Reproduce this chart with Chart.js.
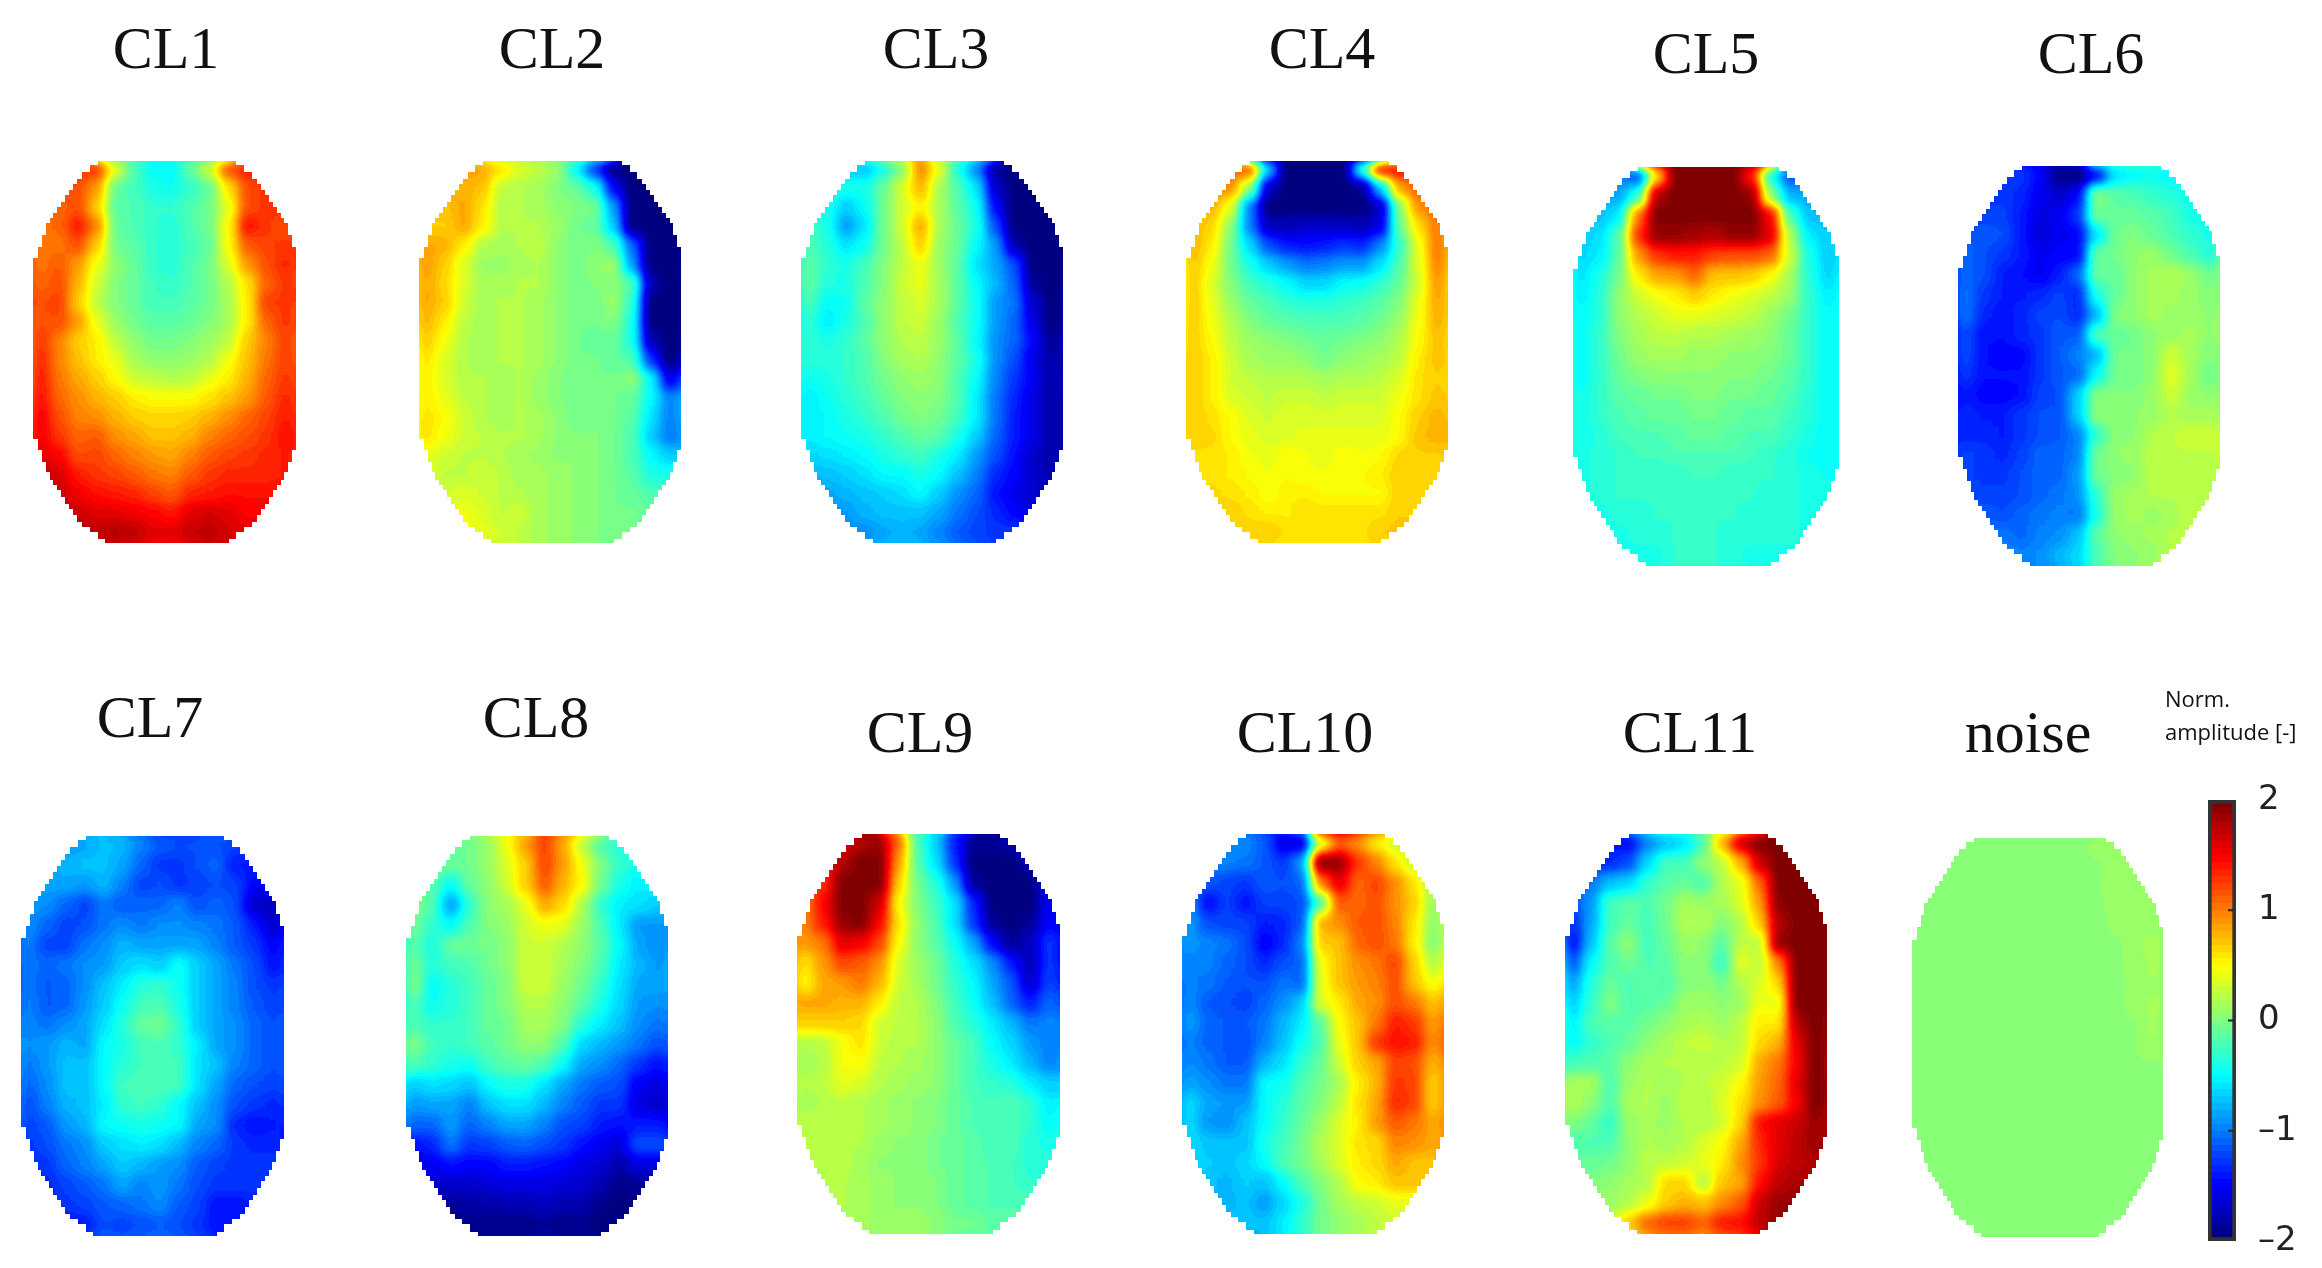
<!DOCTYPE html>
<html>
<head>
<meta charset="utf-8">
<style>
html, body { margin: 0; background: #fff; overflow: hidden; }
#page { position: relative; width: 2322px; height: 1268px; }
canvas { position: absolute; }
</style>
<script src="https://cdn.jsdelivr.net/npm/chart.js@4"></script>
</head>
<body>
<div id="page"></div>
<script>
// values, 20 rows x 14 columns, top row first
const cl1 = [
[1.3,1.3,1.3,1.3,.4,-.2,-.5,-.5,-.1,.3,1.2,1.4,1.4,1.4],
[1.2,1.2,1.2,.9,-.1,-.25,-.4,-.45,-.3,-.1,.6,1.2,1.3,1.3],
[1.1,1.1,1.2,.7,-.15,-.2,-.3,-.3,-.2,-.05,.4,1.2,1.3,1.3],
[1.05,1.1,1.4,1,-.1,-.2,-.3,-.35,-.2,-.05,.5,1.45,1.3,1.2],
[1.05,1.05,1.2,.7,-.05,-.15,-.3,-.35,-.25,-.1,.5,1.15,1.25,1.3],
[1.05,1.15,.9,.45,.05,-.1,-.3,-.35,-.2,-.05,.35,.9,1.2,1.35],
[1.1,1.2,.8,.3,0,-.1,-.25,-.3,-.2,-.05,.2,.6,1.1,1.3],
[1.2,1.25,.7,.25,0,-.1,-.25,-.25,-.15,-.05,.15,.55,1.25,1.3],
[1.2,1.2,.9,.4,.1,-.05,-.15,-.15,-.1,0,.15,.55,1.1,1.3],
[1.3,1,.7,.55,.25,.05,-.05,-.05,0,.1,.25,.7,1,1.25],
[1.35,1,.75,.55,.4,.15,.05,.05,.1,.2,.45,.75,1.05,1.25],
[1.4,1.05,.85,.7,.5,.3,.25,.2,.25,.4,.55,.8,1.1,1.3],
[1.45,1.1,.95,.8,.7,.55,.5,.5,.5,.6,.75,.9,1.15,1.35],
[1.55,1.2,1,.95,.8,.7,.65,.65,.7,.8,.95,1.1,1.25,1.4],
[1.55,1.3,1.1,1.15,.95,.85,.75,.75,.8,1,1.1,1.2,1.3,1.45],
[1.6,1.5,1.2,1.25,1.1,1,.9,.85,1,1.15,1.25,1.3,1.35,1.4],
[1.7,1.65,1.4,1.3,1.25,1.15,1.05,1,1.15,1.3,1.35,1.35,1.35,1.4],
[1.7,1.7,1.55,1.45,1.4,1.35,1.25,1.15,1.35,1.4,1.45,1.45,1.45,1.45],
[1.7,1.7,1.7,1.6,1.6,1.55,1.5,1.4,1.6,1.65,1.6,1.5,1.5,1.5],
[1.75,1.75,1.75,1.75,1.8,1.75,1.6,1.6,1.7,1.75,1.65,1.6,1.6,1.6]
];
const cl2 = [
[.9,.9,.9,.85,.6,.35,.25,.1,-.5,-1.3,-2,-2,-2,-2],
[.8,.8,.8,.75,.25,.2,.15,0,-.1,-.4,-1.5,-2,-2,-2],
[.75,.75,.85,.6,.2,.2,.15,.05,0,-.05,-.9,-2,-2,-2],
[.7,.7,.85,.55,.2,.2,.2,.1,-.05,-.1,-.7,-2,-2,-2],
[.85,.8,.55,.2,.15,.2,.25,.05,-.05,0,-.2,-1.1,-2,-2],
[.9,.7,.35,.1,.1,.15,.2,.05,-.05,.05,.1,-.9,-2,-2],
[.85,.65,.35,.15,.15,.2,.2,.05,-.05,0,.05,-.2,-1.8,-2],
[.85,.7,.3,.15,.2,.2,.15,.05,-.05,-.05,.1,-.3,-2,-2],
[.8,.55,.25,.15,.2,.2,.15,.05,-.05,-.05,0,-.4,-2,-2],
[.7,.45,.2,.15,.2,.2,.15,.05,-.05,-.1,-.1,-.4,-1.8,-2],
[.6,.35,.2,.15,.2,.2,.15,.05,-.05,-.05,-.1,-.2,-1.3,-2],
[.55,.35,.2,.2,.15,.2,.1,0,-.05,-.05,-.05,.05,-.5,-1.6],
[.55,.4,.25,.2,.15,.2,.1,0,-.05,-.05,-.05,-.1,-.5,-1],
[.6,.5,.3,.2,.15,.2,.15,.05,-.05,-.05,-.05,-.15,-.6,-1],
[.6,.45,.3,.25,.2,.2,.15,.05,0,0,-.05,-.2,-.7,-1.05],
[.4,.3,.25,.25,.2,.15,.1,.05,.05,0,-.05,-.2,-.5,-.7],
[.35,.25,.25,.3,.25,.15,.15,.1,.05,0,-.05,-.15,-.4,-.4],
[.3,.3,.35,.3,.25,.2,.15,.1,.05,0,-.05,-.1,-.2,-.2],
[.4,.4,.45,.35,.25,.3,.15,.1,.05,0,-.05,-.05,-.1,-.1],
[.5,.5,.5,.4,.3,.25,.15,.1,.05,0,-.05,-.05,-.1,-.1]
];
const cl3 = [
[-.7,-.7,-.7,-.75,-.4,0,1,.4,-.4,-1,-1.9,-2,-2,-2],
[-.4,-.4,-.4,-.4,-.1,.35,.8,.15,-.2,-.6,-1.7,-2,-2,-2],
[-.4,-.4,-.7,-.5,-.05,.3,.55,.15,-.15,-.45,-1.5,-2,-2,-2],
[-.25,-.4,-.9,-.6,-.05,.3,.85,.15,-.1,-.4,-1.2,-2,-2,-2],
[-.2,-.35,-.6,-.45,-.05,.25,.7,.1,-.1,-.5,-.9,-1.8,-2,-2],
[-.15,-.3,-.4,-.25,0,.25,.45,.1,-.15,-.6,-.85,-1.2,-2,-2],
[-.1,-.35,-.4,-.2,0,.3,.4,.15,-.15,-.5,-.8,-1.1,-1.9,-2],
[-.2,-.5,-.45,-.15,.05,.25,.35,.15,-.15,-.45,-.9,-1.05,-1.7,-2],
[-.3,-.55,-.4,-.2,.05,.25,.3,.1,-.2,-.45,-.9,-1.1,-1.6,-2],
[-.3,-.4,-.3,-.15,.05,.2,.25,.1,-.15,-.5,-.95,-1.1,-1.5,-1.9],
[-.35,-.35,-.3,-.2,0,.15,.2,.05,-.15,-.4,-.95,-1.2,-1.6,-1.85],
[-.45,-.4,-.3,-.2,-.05,.05,.1,.05,-.2,-.5,-1,-1.3,-1.55,-1.85],
[-.55,-.45,-.35,-.25,-.1,0,.05,0,-.2,-.55,-1.05,-1.35,-1.6,-1.85],
[-.55,-.5,-.4,-.3,-.2,-.05,0,-.05,-.25,-.55,-1.05,-1.4,-1.6,-1.85],
[-.55,-.5,-.45,-.4,-.3,-.2,-.1,-.15,-.4,-.7,-1.1,-1.4,-1.6,-1.85],
[-.65,-.6,-.55,-.5,-.4,-.3,-.25,-.4,-.55,-.9,-1.2,-1.45,-1.7,-1.85],
[-.8,-.75,-.7,-.6,-.5,-.5,-.4,-.5,-.75,-1,-1.35,-1.5,-1.7,-1.8],
[-.9,-.85,-.8,-.75,-.7,-.6,-.5,-.7,-.95,-1.1,-1.45,-1.55,-1.7,-1.75],
[-.95,-.95,-.9,-.8,-.75,-.75,-.75,-.85,-1.05,-1.2,-1.35,-1.5,-1.6,-1.6],
[-.95,-.95,-.95,-.95,-.85,-.8,-.85,-1,-1.15,-1.25,-1.3,-1.3,-1.3,-1.3]
];
const cl4 = [
[1.1,1.1,1.1,1.2,-.7,-2,-2,-2,-2,-.3,1.5,1.5,1.3,1.3],
[1,1,.95,.1,-1.7,-2,-2,-2,-2,-1.9,-.7,.85,1.15,1.15],
[.8,.8,.4,-1,-2,-2,-2,-2,-2,-2,-1.7,0,.95,1.1],
[.8,.65,.05,-1,-1.75,-1.8,-1.7,-1.7,-1.75,-1.8,-1.6,-.1,.6,1.05],
[.8,.55,-.05,-.65,-1.2,-1.4,-1.45,-1.4,-1.3,-1.35,-1,-.3,.4,1.05],
[.75,.45,-.05,-.4,-.7,-.9,-1.05,-1,-.9,-.9,-.6,-.2,.35,1],
[.7,.35,0,-.25,-.35,-.5,-.65,-.65,-.5,-.45,-.3,-.1,.3,.9],
[.7,.4,.1,-.1,-.2,-.3,-.35,-.35,-.3,-.25,-.15,0,.4,.85],
[.7,.45,.2,0,-.1,-.15,-.2,-.2,-.2,-.15,-.05,.1,.45,.8],
[.7,.5,.25,.1,.05,0,-.05,-.1,-.05,0,.05,.2,.5,.75],
[.7,.55,.3,.15,.1,.1,.05,-.05,.05,.1,.15,.25,.55,.75],
[.7,.55,.3,.25,.2,.2,.2,.15,.2,.2,.25,.35,.6,.7],
[.7,.55,.35,.3,.25,.3,.3,.25,.3,.3,.3,.45,.6,.75],
[.7,.6,.5,.35,.3,.35,.35,.35,.35,.35,.35,.5,.7,.8],
[.7,.65,.5,.4,.35,.35,.4,.4,.4,.4,.4,.5,.75,.8],
[.6,.6,.55,.45,.4,.5,.45,.4,.5,.45,.5,.65,.7,.7],
[.6,.6,.55,.5,.45,.5,.45,.45,.5,.5,.55,.7,.65,.65],
[.65,.65,.6,.55,.45,.55,.55,.5,.5,.5,.5,.7,.65,.65],
[.7,.7,.7,.6,.55,.55,.6,.6,.6,.6,.6,.7,.7,.7],
[.7,.7,.7,.7,.7,.6,.6,.6,.6,.6,.7,.75,.75,.75]
];
const cl5 = [
[-1,-1,-1,-1.2,.6,2,2,2,2,1.4,-.4,-1.2,-1,-1],
[-.85,-.85,-.85,-.3,1.8,2,2,2,2,1.9,.1,-.8,-.85,-.85],
[-.75,-.75,-.55,1,2,2,2,2,2,2,1.5,-.2,-.75,-.8],
[-.7,-.6,-.2,1.3,1.9,1.9,1.85,1.8,1.9,1.9,1.6,.2,-.55,-.7],
[-.65,-.55,-.15,.9,1.3,1.4,1.4,1.25,1.2,1.2,1.1,.3,-.4,-.7],
[-.6,-.4,-.05,.55,.85,.9,1.1,.75,.75,.7,.5,.15,-.35,-.65],
[-.55,-.35,.05,.3,.45,.55,.7,.55,.45,.35,.25,.1,-.3,-.55],
[-.5,-.35,.05,.2,.3,.4,.4,.35,.3,.25,.1,-.05,-.3,-.5],
[-.5,-.3,0,.15,.25,.25,.2,.2,.15,.1,.05,-.1,-.3,-.5],
[-.5,-.3,-.05,.1,.15,.15,.1,.1,.05,.05,0,-.1,-.3,-.5],
[-.5,-.3,-.1,0,.05,.05,.05,.05,0,0,-.05,-.15,-.3,-.5],
[-.45,-.3,-.15,-.1,-.05,-.05,0,0,-.05,-.05,-.1,-.2,-.35,-.5],
[-.45,-.3,-.2,-.15,-.1,-.1,-.05,-.05,-.1,-.15,-.15,-.25,-.35,-.5],
[-.45,-.35,-.25,-.2,-.2,-.15,-.1,-.1,-.15,-.2,-.2,-.3,-.4,-.5],
[-.4,-.35,-.3,-.25,-.25,-.2,-.2,-.2,-.2,-.25,-.3,-.35,-.45,-.5],
[-.4,-.35,-.3,-.3,-.3,-.3,-.25,-.25,-.3,-.3,-.3,-.35,-.4,-.45],
[-.4,-.35,-.3,-.3,-.3,-.3,-.3,-.3,-.3,-.3,-.35,-.35,-.4,-.4],
[-.4,-.4,-.35,-.35,-.3,-.3,-.3,-.3,-.3,-.35,-.35,-.35,-.4,-.4],
[-.4,-.4,-.4,-.35,-.35,-.3,-.3,-.3,-.35,-.35,-.35,-.35,-.4,-.4],
[-.4,-.4,-.4,-.4,-.4,-.3,-.3,-.3,-.35,-.4,-.4,-.4,-.4,-.4]
];
const cl6 = [
[-1.25,-1.25,-1.25,-1.3,-1.5,-1.95,-2,-1.5,-.6,-.5,-.45,-.5,-.5,-.5],
[-1.3,-1.3,-1.3,-1.35,-1.55,-1.7,-1.5,0,-.15,-.2,-.3,-.35,-.45,-.5],
[-1.25,-1.25,-1.25,-1.4,-1.6,-1.55,-1.3,-.05,-.1,-.1,-.15,-.25,-.4,-.45],
[-1.15,-1.15,-1.2,-1.4,-1.65,-1.55,-1.5,-.6,-.05,0,-.1,-.2,-.3,-.4],
[-1.1,-1.2,-1.3,-1.4,-1.55,-1.5,-1.5,-.1,-.05,.05,.1,-.05,-.2,-.35],
[-1.1,-1.2,-1.4,-1.45,-1.55,-1.4,-1.1,-.1,-.1,.05,.15,.2,.1,-.05],
[-1.05,-1.3,-1.4,-1.4,-1.35,-1.25,-1.35,-.4,-.1,.05,.15,.15,.1,0],
[-1.05,-1.35,-1.45,-1.35,-1.25,-1.2,-1.35,-.8,0,.05,.15,.1,.1,.05],
[-1.2,-1.45,-1.45,-1.35,-1.3,-1.15,-1.15,-.2,-.1,-.05,.05,.1,.15,.05],
[-1.2,-1.45,-1.5,-1.5,-1.3,-1.15,-1,-.8,-.05,-.05,.05,.3,.15,0],
[-1.3,-1.45,-1.45,-1.45,-1.3,-1.15,-1.1,-.5,-.05,-.05,.05,.4,.15,-.05],
[-1.4,-1.5,-1.5,-1.45,-1.25,-1.2,-.7,0,0,0,.1,.3,.1,.05],
[-1.35,-1.4,-1.4,-1.3,-1.2,-1.2,-.7,.05,.05,.05,.1,.2,.15,.15],
[-1.35,-1.35,-1.4,-1.3,-1.2,-1.15,-1,-.3,.05,.05,.2,.25,.3,.3],
[-1.25,-1.3,-1.35,-1.25,-1.1,-1.1,-1,-.05,.05,.1,.25,.25,.25,.25],
[-1.25,-1.3,-1.3,-1.2,-1.1,-1.1,-.9,-.05,0,.05,.25,.25,.25,.25],
[-1.2,-1.25,-1.25,-1.2,-1.1,-1.05,-.95,-.3,.1,.15,.2,.2,.25,.25],
[-1.15,-1.15,-1.2,-1.1,-1.05,-1,-1.05,-.4,.1,.15,.1,.15,.25,.25],
[-1.05,-1.05,-1.05,-1.1,-1,-.95,-.75,-.15,.05,.1,.15,.2,.2,.2],
[-.95,-.95,-.95,-1,-.95,-.8,-.65,-.2,0,.05,.1,.2,.25,.25]
];
const cl7 = [
[-.9,-.9,-.9,-.85,-.75,-.8,-1,-1.15,-1.2,-1.2,-1.2,-1.25,-1.3,-1.3],
[-.9,-.85,-.8,-.75,-.75,-.85,-1.1,-1.3,-1.3,-1.2,-1.1,-1.4,-1.4,-1.4],
[-.85,-.85,-.85,-.9,-.8,-1,-1.25,-1.2,-1.3,-1.25,-1.2,-1.25,-1.5,-1.5],
[-.9,-.95,-1.1,-1.25,-1.05,-1.15,-1.1,-1.1,-1,-1.2,-1.1,-1.2,-1.7,-1.75],
[-.95,-1.1,-1.25,-1.2,-1.05,-.95,-1.05,-.95,-.95,-1,-1.05,-1.15,-1.4,-1.7],
[-1,-1.25,-1.25,-1.05,-.95,-.8,-.85,-.85,-.85,-.85,-1,-1.15,-1.3,-1.5],
[-1.05,-1.1,-1.05,-.95,-.9,-.7,-.6,-.7,-.45,-.7,-.85,-1.05,-1.2,-1.45],
[-1.05,-1.15,-1.1,-.95,-.75,-.55,-.35,-.3,-.45,-.7,-.85,-1,-1.2,-1.3],
[-1,-1.15,-1.1,-.9,-.7,-.45,-.25,-.2,-.4,-.7,-.85,-1,-1.15,-1.25],
[-1,-1.05,-.95,-.85,-.6,-.35,-.1,-.05,-.3,-.7,-.85,-.95,-1.1,-1.2],
[-.95,-.9,-.8,-.85,-.5,-.4,-.25,-.2,-.3,-.55,-.85,-.95,-1.1,-1.2],
[-1.05,-.9,-.75,-.75,-.5,-.35,-.25,-.25,-.25,-.6,-.75,-1,-1.1,-1.2],
[-1.1,-.95,-.75,-.75,-.5,-.25,-.2,-.2,-.25,-.6,-.85,-1.1,-1.2,-1.25],
[-1.2,-1,-.8,-.75,-.55,-.3,-.25,-.3,-.5,-.75,-.95,-1.2,-1.3,-1.35],
[-1.25,-1.15,-.9,-.8,-.5,-.45,-.4,-.45,-.5,-.85,-.95,-1.35,-1.45,-1.4],
[-1.3,-1.2,-1.05,-.95,-.7,-.6,-.55,-.6,-.8,-1,-1.1,-1.3,-1.35,-1.35],
[-1.35,-1.3,-1.1,-1,-.85,-.7,-.8,-.9,-.95,-1.15,-1.25,-1.3,-1.3,-1.3],
[-1.4,-1.35,-1.25,-1.15,-1.05,-.85,-1,-.9,-1.05,-1.2,-1.3,-1.3,-1.3,-1.3],
[-1.4,-1.4,-1.3,-1.25,-1.15,-1.1,-1.05,-.95,-1.15,-1.25,-1.45,-1.45,-1.4,-1.4],
[-1.45,-1.45,-1.45,-1.4,-1.2,-1.25,-1.2,-1.15,-1.2,-1.3,-1.45,-1.45,-1.45,-1.45]
];
const cl8 = [
[-.1,-.1,-.1,-.05,.1,.45,.9,1.25,.85,.25,-.2,-.35,-.35,-.35],
[0,0,-.1,-.05,.1,.35,.7,1.25,.9,.45,0,-.3,-.4,-.4],
[-.1,-.15,-.5,-.1,.05,.3,.7,1.15,.8,.5,-.05,-.4,-.55,-.5],
[.05,-.2,-.9,-.3,.05,.15,.4,.85,.65,.2,-.3,-.55,-.6,-.7],
[-.05,-.3,-.5,-.2,0,.1,.3,.45,.4,.1,-.2,-.55,-.9,-.9],
[-.15,-.4,-.1,-.05,-.05,.05,.3,.3,.2,.05,-.15,-.5,-.85,-.95],
[-.05,-.35,-.25,-.2,-.05,.05,.3,.3,.15,0,-.2,-.55,-.8,-.9],
[0,-.5,-.35,-.25,-.1,0,.3,.3,.1,-.05,-.3,-.6,-.85,-.85],
[-.2,-.45,-.35,-.25,-.1,0,.2,.2,.05,-.15,-.4,-.65,-.9,-.95],
[-.2,-.3,-.3,-.25,-.1,-.05,.15,.15,0,-.35,-.55,-.75,-.95,-1.05],
[0,-.25,-.3,-.25,-.15,-.05,.05,.05,-.2,-.65,-.8,-.9,-1.05,-1.2],
[-.2,-.3,-.4,-.45,-.25,-.15,-.1,-.2,-.5,-.85,-.95,-1.1,-1.3,-1.45],
[-.7,-.6,-.65,-.75,-.5,-.4,-.4,-.6,-.85,-1.05,-1.15,-1.2,-1.55,-1.6],
[-.9,-.85,-.85,-1,-.75,-.6,-.6,-.8,-1,-1.15,-1.3,-1.3,-1.6,-1.7],
[-1.1,-1.1,-.9,-1.1,-1,-.85,-.85,-1,-1.2,-1.25,-1.4,-1.45,-1.4,-1.4],
[-1.45,-1.35,-1.05,-1.3,-1.25,-1.15,-1.1,-1.2,-1.3,-1.45,-1.55,-1.65,-1.2,-1.2],
[-1.55,-1.55,-1.45,-1.5,-1.5,-1.4,-1.4,-1.45,-1.5,-1.6,-1.65,-1.85,-1.6,-1.6],
[-1.75,-1.7,-1.7,-1.7,-1.65,-1.6,-1.6,-1.6,-1.65,-1.7,-1.8,-1.95,-1.9,-1.9],
[-1.85,-1.9,-1.9,-1.85,-1.85,-1.8,-1.8,-1.75,-1.8,-1.8,-1.95,-2,-2,-2],
[-1.95,-1.95,-1.95,-1.95,-1.95,-1.95,-1.95,-1.9,-1.95,-1.95,-2,-2,-2,-2]
];
const cl9 = [
[1.5,1.5,1.6,1.8,1.9,1.1,-.2,-.7,-1.4,-1.9,-1.9,-1.8,-1.6,-1.6],
[1.4,1.4,1.8,2,2,.9,-.15,-.6,-1.3,-2,-2,-2,-1.8,-1.6],
[1.2,1.3,2,2,2,.7,-.05,-.35,-.9,-1.9,-2,-2,-2,-1.6],
[1,1.5,2,2,1.7,.5,0,-.25,-.6,-1.35,-2,-2,-2,-1.55],
[1,1.4,1.9,2,1.5,.6,.05,-.2,-.6,-1.3,-1.9,-2,-1.9,-1.5],
[.9,1.05,1.6,1.55,1.25,.5,.05,-.15,-.45,-.85,-1.5,-1.9,-1.75,-1.3],
[.6,.9,1.25,1.15,.95,.35,.1,-.05,-.35,-.6,-.95,-1.4,-1.8,-1.3],
[.5,.85,.9,1.05,.8,.3,.15,-.05,-.3,-.5,-.85,-1.15,-1.7,-1.25],
[.85,.85,.8,.8,.55,.25,.2,0,-.25,-.45,-.75,-1.1,-1.4,-1.1],
[.7,.7,.7,.65,.3,.25,.2,.05,-.2,-.35,-.55,-.8,-1.05,-1],
[.2,.25,.45,.6,.3,.2,.2,.05,-.1,-.25,-.5,-.65,-.9,-1],
[.15,.2,.45,.5,.25,.2,.15,.05,-.1,-.25,-.4,-.55,-.8,-1],
[.2,.25,.4,.35,.2,.15,.1,.05,-.1,-.25,-.3,-.35,-.55,-.7],
[.15,.2,.25,.2,.15,.1,.05,0,-.1,-.2,-.25,-.2,-.3,-.55],
[.25,.25,.25,.2,.15,.1,.05,0,-.1,-.2,-.25,-.2,-.3,-.5],
[.25,.25,.2,.2,.1,.05,.05,-.05,-.1,-.15,-.25,-.2,-.35,-.4],
[.25,.25,.25,.15,.05,.05,.05,-.05,-.1,-.15,-.2,-.25,-.35,-.35],
[.25,.25,.2,.15,.1,.05,.05,0,-.1,-.15,-.2,-.25,-.3,-.3],
[.2,.2,.2,.15,.1,.05,.05,0,-.1,-.15,-.2,-.2,-.2,-.2],
[.15,.15,.15,.15,.1,.1,.1,.05,-.05,-.05,-.15,-.15,-.15,-.15]
];
const cl10 = [
[-.95,-.95,-.95,-.95,-1.15,-1.6,-1.6,.3,1.1,.95,.55,.3,.2,.2],
[-1,-1,-1,-1.05,-1.15,-1.3,-.9,2,1.9,1.3,1,.6,.25,.2],
[-1.15,-1.15,-1.25,-1.3,-1.15,-1.2,-1.1,1,1.6,1.1,1.25,.95,.6,.15],
[-.9,-1.5,-1.25,-1.45,-1.25,-1.25,-1.2,-.2,1.15,1.1,1.2,.95,.7,.1],
[-.9,-1.2,-1.25,-1.25,-1.4,-1.35,-1.15,.8,.95,1.15,1.2,1,.6,.05],
[-.9,-1,-1.05,-1.2,-1.55,-1.35,-1,.7,.75,1.1,1.2,1.05,.55,0],
[-1,-1,-1.1,-1.2,-1.35,-1.2,-1.1,.45,.75,.95,1.05,1.25,.7,.2],
[-1,-1.05,-1.15,-1.2,-1.2,-1.05,-1.1,.4,.75,.9,1,1.2,.75,.45],
[-.95,-1.15,-1.2,-1.25,-1.1,-.95,-.7,.35,.55,.85,.95,1.2,1.05,.75],
[-.9,-1.1,-1.15,-1.15,-1.05,-.8,-.55,-.15,.5,.75,1.05,1.4,1.3,.9],
[-1,-1.1,-1.15,-1.2,-1,-.75,-.45,-.2,.4,.75,1.3,1.45,1.4,.95],
[-.95,-1.05,-1.15,-1.15,-.8,-.6,-.3,-.1,.3,.7,.85,1.25,1.2,.8],
[-.85,-.95,-1.05,-1.05,-.5,-.45,-.2,-.05,.15,.55,.8,1.3,1.25,.7],
[-.65,-.85,-.9,-.9,-.5,-.35,-.15,0,.25,.6,.85,1.35,1.25,.7],
[-.65,-.9,-.95,-.75,-.5,-.3,-.1,.1,.35,.55,.9,1.15,1.05,.85],
[-.6,-.75,-.75,-.75,-.4,-.25,-.05,.2,.35,.6,.65,1,.95,.85],
[-.6,-.7,-.75,-.65,-.5,-.2,-.05,.15,.35,.55,.65,.85,.75,.75],
[-.75,-.75,-.8,-.7,-.75,-.5,-.2,0,.2,.5,.55,.75,.75,.75],
[-.8,-.8,-.8,-.75,-.9,-.65,-.4,-.05,.15,.25,.3,.4,.4,.4],
[-.75,-.75,-.75,-.75,-.75,-.55,-.3,-.05,.05,.15,.25,.3,.3,.3]
];
const cl11 = [
[-1.4,-1.4,-1.4,-1.5,-1,-.75,-.6,-.2,.8,1.7,2,2,2,2],
[-1.3,-1.3,-1.35,-1.2,-.65,-.25,-.25,.05,.25,.8,1.7,2,2,2],
[-1.1,-1.05,-.75,-.65,-.3,-.15,-.1,-.2,.2,.4,1.1,2,2,2],
[-1.2,-.9,-.25,-.15,-.2,-.05,.15,.1,.15,.35,.9,1.95,2,2],
[-1.35,-.85,-.25,-.1,-.25,-.05,.2,.2,0,.2,.7,1.8,2,2],
[-1.5,-.75,-.15,.05,-.25,-.1,.1,.05,-.15,.25,.25,1.9,2,2],
[-1.2,-.5,-.2,-.05,-.2,-.15,.05,.05,-.3,.4,.25,1,2,2],
[-.9,-.35,-.1,-.2,-.15,-.2,0,.05,-.05,.2,.35,.65,2,2],
[-.7,-.3,0,-.2,-.15,-.1,.1,.1,.05,.1,.45,.4,2,2],
[-.55,-.2,-.15,-.15,-.05,.05,.15,.2,.1,.25,.55,.55,1.8,2],
[-.5,-.3,-.2,-.1,.05,.15,.25,.3,.2,.25,.65,.8,1.6,2],
[-.25,-.2,-.15,.05,.15,.2,.2,.2,.25,.3,.85,1.05,1.55,2],
[.15,.15,-.2,.1,.2,.15,.2,.25,.3,.5,.9,1.1,1.6,2],
[.2,.05,-.2,.15,.2,.1,.25,.2,.35,.6,.95,1.15,1.55,2],
[0,-.1,-.3,.1,.15,.1,.2,.2,.3,.65,1.45,1.6,1.7,1.9],
[-.2,-.2,-.2,.05,.2,.15,.2,.35,.5,.85,1.35,1.6,1.75,1.9],
[-.1,-.1,-.05,.05,.25,.25,.3,.4,.55,.95,1.3,1.65,1.75,1.8],
[0,0,.05,.15,.2,.65,.65,.2,.75,.85,1.45,1.75,1.85,1.85],
[.1,.1,.1,.2,.4,.7,.8,.75,.95,1.15,1.7,1.9,1.9,1.9],
[.25,.25,.25,.7,1.1,1.25,1.25,1.1,1.4,1.45,1.75,1.9,1.9,1.9]
];
const noise = [
[.06,.06,.06,.06,.06,.06,.06,.06,.06,.06,.09,.12,.12,.12],
[.06,.03,.03,.04,.06,.06,.06,.03,.03,.03,.06,.12,.12,.12],
[.04,.03,.03,.04,.06,.06,.06,.03,.03,.03,.06,.12,.12,.12],
[.03,.03,.03,.06,.06,.06,.06,.04,.02,.02,.06,.09,.12,.12],
[.02,.02,.03,.06,.06,.06,.06,.04,.02,.02,.04,.08,.12,.12],
[.02,.02,.03,.06,.06,.06,.06,.03,.04,.02,.02,.04,.12,.14],
[.02,.02,.03,.06,.06,.06,.06,.03,.04,.02,.02,.04,.1,.14],
[.02,.03,.06,.06,.06,.06,.06,.04,.03,.03,.02,.04,.08,.12],
[.02,.02,.06,.06,.06,.06,.06,.06,.03,.02,.02,.04,.1,.14],
[.03,.06,.06,.06,.06,.06,.06,.04,.02,.01,.01,.02,.06,.14],
[.06,.06,.06,.06,.04,.02,.02,.03,.02,.01,.01,.01,.06,.12],
[.06,.06,.06,.06,.04,.01,.01,.01,.01,.01,.01,.01,.06,.06],
[.06,.06,.06,.06,.03,.01,.01,.01,.01,.01,.01,.01,.06,.06],
[.06,.06,.06,.06,.06,.01,.01,.01,.01,.01,.01,.01,.06,.06],
[.06,.06,.06,.06,.06,.06,.03,.01,.01,.01,.03,.01,.06,.06],
[.06,.06,.04,.02,.02,.03,.02,.01,.01,.01,.04,.02,.06,.06],
[.06,.06,.06,.06,.02,.02,.01,.01,.01,.01,.02,.02,.06,.06],
[.06,.06,.06,.06,.02,.02,.04,.02,.01,.01,.06,.06,.06,.06],
[.06,.06,.03,.03,.02,.02,.06,.06,.03,.02,.06,.06,.06,.06],
[.06,.06,.03,.03,.02,.02,.06,.06,.06,.03,.02,.06,.06,.06]
];

const panelNames = ["CL1","CL2","CL3","CL4","CL5","CL6","CL7","CL8","CL9","CL10","CL11","noise"];
const panelValues = [cl1,cl2,cl3,cl4,cl5,cl6,cl7,cl8,cl9,cl10,cl11,noise];

const colorbarRange = [-2, 2];
const colorbarTicks = [-2, -1, 0, 1, 2];
const colorbarTickLabels = ["\u20132", "\u20131", "0", "1", "2"];
const colorbarTitle = ["Norm.", "amplitude [-]"];

// where each map sits on the page: left, top, right, bottom, title centre, title baseline
const panelBoxes = [
    [33,161,296,543,166,70],
    [419,161,681,543,552,70],
    [801,161,1063,543,936,70],
    [1186,161,1448,543,1322,70],
    [1573,167,1839,566,1706,75],
    [1958,166,2220,566,2091,75],
    [21,836,284,1236,150,739],
    [406,836,668,1236,536,739],
    [797,834,1060,1234,920,754],
    [1182,834,1444,1234,1305,754],
    [1565,834,1827,1234,1690,754],
    [1912,838,2163,1237,2028,754],
];

// staircase of the head outline: down to this fraction of the height, left inset as fraction of width
const outlineSteps = [
    [.011,.244],[.028,.213],[.046,.184],[.059,.165],[.076,.152],[.089,.136],[.107,.121],[.12,.105],
    [.137,.09],[.15,.076],[.163,.061],[.194,.046],[.224,.032],[.255,.016],[.727,0],[.757,.016],
    [.788,.032],[.814,.046],[.836,.061],[.849,.076],[.862,.09],[.88,.105],[.897,.121],[.91,.136],
    [.927,.152],[.945,.165],[.958,.184],[.971,.213],[.99,.244],[1,.273],
];

function jet(v) {
    const t = Math.round(((v + 2) / 4) * 63) / 63;
    const c = (x) => Math.round(255 * Math.max(0, Math.min(1, 1.5 - Math.abs(x))));
    return [c(4 * t - 3), c(4 * t - 2), c(4 * t - 1)];
}

function valueToGray(v) {
    const g = Math.round(((v + 2) / 4) * 255);
    return "rgb(" + g + "," + g + "," + g + ")";
}

function insetAt(frac) {
    for (const step of outlineSteps) {
        if (frac <= step[0]) return step[1];
    }
    return 0;
}

// the cells are drawn as gray levels, then smoothed and turned into jet colours inside the outline
const smoothJet = {
    id: "smoothJet",
    afterDatasetsDraw(chart) {
        const area = chart.chartArea;
        const ctx = chart.ctx;
        const l = Math.round(area.left), t = Math.round(area.top);
        const w = Math.round(area.width), h = Math.round(area.height);
        const m = 30;

        const raw = document.createElement("canvas");
        raw.width = w + 2 * m;
        raw.height = h + 2 * m;
        const rawCtx = raw.getContext("2d");
        rawCtx.drawImage(chart.canvas, l, t, w, h, 0, 0, w + 2 * m, h + 2 * m);
        rawCtx.drawImage(chart.canvas, l, t, w, h, m, m, w, h);

        const soft = document.createElement("canvas");
        soft.width = raw.width;
        soft.height = raw.height;
        const softCtx = soft.getContext("2d", { willReadFrequently: true });
        softCtx.filter = "blur(6px)";
        softCtx.drawImage(raw, 0, 0);

        const img = softCtx.getImageData(m, m, w, h);
        for (let y = 0; y < h; y++) {
            const inset = insetAt((y + 0.5) / h) * w;
            for (let x = 0; x < w; x++) {
                const i = (y * w + x) * 4;
                const [r, g, b] = jet((img.data[i] / 255) * 4 - 2);
                img.data[i] = r;
                img.data[i + 1] = g;
                img.data[i + 2] = b;
                const inside = x >= inset && x < w - Math.max(inset - 4, 0);
                img.data[i + 3] = inside ? 255 : 0;
            }
        }
        ctx.clearRect(l, t, w, h);
        ctx.putImageData(img, l, t);
    },
};

// moves the title sideways, the layout would otherwise centre it on the map
// widen keeps long text from being squeezed into the narrowed title box
const titleShift = {
    id: "titleShift",
    afterLayout(chart, args, opts) {
        chart.titleBlock.left += opts.dx;
        chart.titleBlock.right += opts.dx + (opts.widen || 0);
    },
};

function addCanvas(left, top, width, height) {
    const canvas = document.createElement("canvas");
    canvas.width = width;
    canvas.height = height;
    canvas.style.left = left + "px";
    canvas.style.top = top + "px";
    document.getElementById("page").appendChild(canvas);
    return canvas;
}

function drawPanel(name, values, box) {
    const [left, top, right, bottom, titleX, baseline] = box;
    const rows = values.length;
    const cols = values[0].length;
    const side = 24;
    const canvasTop = baseline - 72;
    const canvas = addCanvas(left - side, canvasTop, right - left + 2 * side, bottom - canvasTop);

    const cells = [];
    values.forEach((row, r) => {
        row.forEach((v, c) => {
            cells.push({ x: c + 0.5, y: r + 0.5, v: v });
        });
    });

    new Chart(canvas, {
        type: "scatter",
        data: {
            datasets: [
                {
                    data: cells,
                    pointStyle: "rect",
                    pointRadius: 16,
                    pointBorderWidth: 0,
                    pointBackgroundColor: (c) => valueToGray(c.raw.v),
                },
            ],
        },
        options: {
            responsive: false,
            animation: false,
            events: [],
            layout: { autoPadding: false, padding: { left: side, right: side, top: 0, bottom: 0 } },
            scales: {
                x: { type: "linear", min: 0, max: cols, display: false },
                y: { type: "linear", min: 0, max: rows, reverse: true, display: false },
            },
            plugins: {
                legend: { display: false },
                tooltip: { enabled: false },
                titleShift: { dx: titleX - (left + right) / 2 },
                title: {
                    display: true,
                    text: name,
                    color: "#111",
                    font: { family: '"Liberation Serif"', size: 60, weight: "normal", lineHeight: 1 },
                    padding: { top: 24, bottom: top - canvasTop - 24 - 60 },
                },
            },
        },
        plugins: [smoothJet, titleShift],
    });
}

function drawColorbar() {
    const left = 2160, top = 680;
    const canvas = addCanvas(left, top, 2322 - left, 1268 - top);

    const tickMarks = {
        id: "tickMarks",
        afterLayout(chart) {
            // labels stand further off the bar, tick padding would also shrink the plot height
            chart.scales.y.left += 18;
        },
        afterDraw(chart) {
            const y = chart.scales.y;
            const ctx = chart.ctx;
            ctx.save();
            ctx.strokeStyle = "#222";
            ctx.lineWidth = 2;
            colorbarTicks.slice(1, -1).forEach((v) => {
                const p = y.getPixelForValue(v);
                ctx.beginPath();
                ctx.moveTo(chart.chartArea.right - 8, p);
                ctx.lineTo(chart.chartArea.right - 3, p);
                ctx.stroke();
            });
            ctx.restore();
        },
    };

    new Chart(canvas, {
        type: "bar",
        data: {
            labels: [""],
            datasets: [
                {
                    data: [colorbarRange],
                    barPercentage: 1,
                    categoryPercentage: 1,
                    borderWidth: 4,
                    borderColor: "#333",
                    borderSkipped: false,
                    backgroundColor: (c) => {
                        const a = c.chart.chartArea;
                        if (!a) return "#000";
                        const grad = c.chart.ctx.createLinearGradient(0, a.bottom, 0, a.top);
                        for (let i = 0; i < 64; i++) {
                            const col = "rgb(" + jet((i / 63) * 4 - 2).join(",") + ")";
                            grad.addColorStop(i / 64, col);
                            grad.addColorStop((i + 1) / 64, col);
                        }
                        return grad;
                    },
                },
            ],
        },
        options: {
            responsive: false,
            animation: false,
            events: [],
            layout: { padding: { left: 48, right: 0, top: 0, bottom: 27 } },
            scales: {
                x: { display: false },
                y: {
                    position: "right",
                    min: colorbarRange[0],
                    max: colorbarRange[1],
                    afterFit(scale) {
                        scale.width = 86;
                    },
                    afterBuildTicks(scale) {
                        scale.ticks = colorbarTicks.map((v) => ({ value: v }));
                    },
                    grid: { display: false, drawTicks: false },
                    border: { display: false },
                    ticks: {
                        padding: 4,
                        color: "#222",
                        font: { family: '"DejaVu Sans"', size: 34 },
                        callback: (v) => colorbarTickLabels[colorbarTicks.indexOf(v)],
                    },
                },
            },
            plugins: {
                legend: { display: false },
                tooltip: { enabled: false },
                titleShift: { dx: 2165 - left - 48, widen: 60 },
                title: {
                    display: true,
                    text: colorbarTitle,
                    align: "start",
                    color: "#111",
                    font: { family: '"Open Sans"', size: 22, weight: "normal", lineHeight: 1.5 },
                    padding: { top: 4, bottom: 50 },
                },
            },
        },
        plugins: [titleShift, tickMarks],
    });
}

panelNames.forEach((name, i) => drawPanel(name, panelValues[i], panelBoxes[i]));
drawColorbar();
</script>
</body>
</html>
